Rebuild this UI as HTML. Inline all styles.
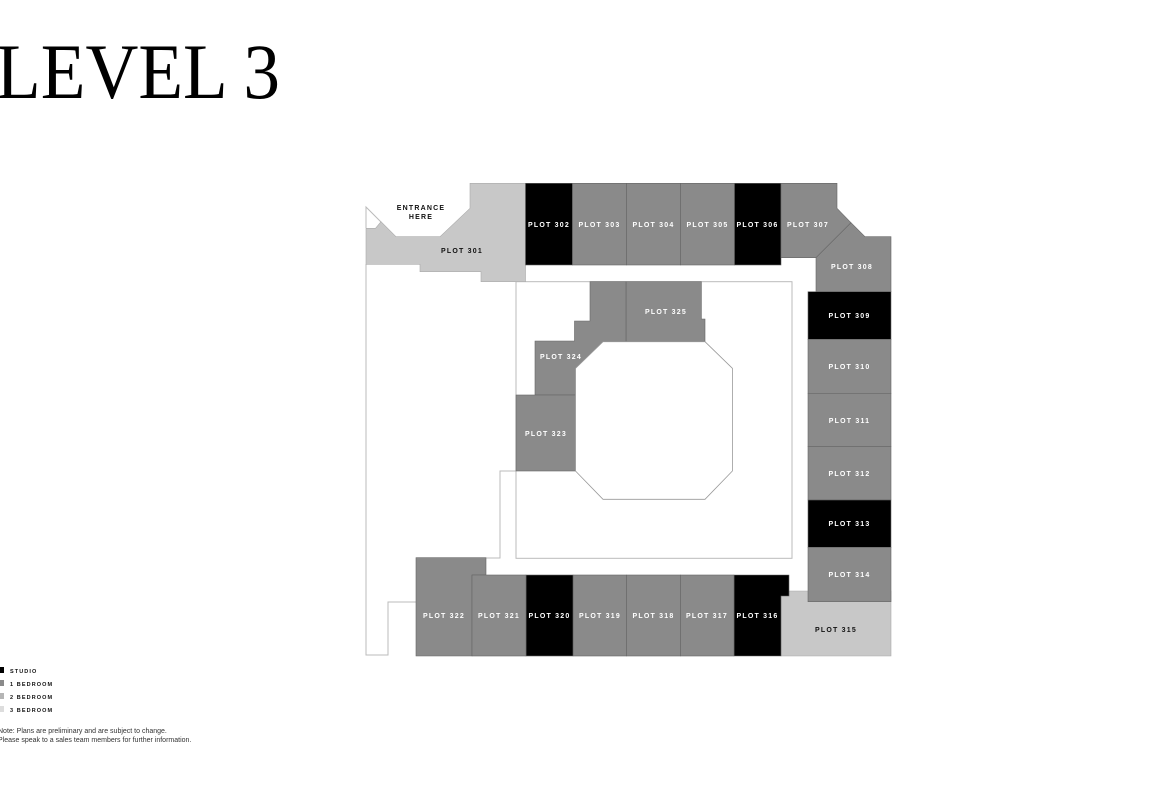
<!DOCTYPE html>
<html><head><meta charset="utf-8"><style>
html,body{margin:0;padding:0;background:#fff;width:1170px;height:785px;overflow:hidden}
svg{display:block}
.l{font-family:"Liberation Sans",sans-serif;font-weight:bold;font-size:7px;letter-spacing:1.2px;text-anchor:middle}
.w{fill:#fff}.k{fill:#111}
</style></head><body>
<svg width="1170" height="785" viewBox="0 0 1170 785" xmlns="http://www.w3.org/2000/svg">
<text x="-4" y="98" font-family="Liberation Serif, serif" font-size="78" textLength="284" lengthAdjust="spacingAndGlyphs" fill="#000">LEVEL 3</text>

<g stroke="#bbb" stroke-width="1" fill="none">
<polyline points="366,264 366,655 388,655 388,602 416,602"/>
<polyline points="486,558 500,558 500,471 516,471"/>
<rect x="516" y="281.7" width="276" height="276.6"/>
<polyline points="366,228 366,207 381,222"/>
</g>

<polygon fill="#c8c8c8" stroke="#aaa" stroke-width="0.6" points="470,183.3 525.5,183.3 525.5,281.7 481,281.7 481,271.7 420,271.7 420,264.3 366,264.3 366,228.3 375.5,228.3 381,221.7 396,236.7 440,236.7 470,208.3"/>

<g stroke="#666" stroke-width="0.6">
<rect x="525.5" y="183.3" width="47" height="81.7" fill="#000"/>
<rect x="572.5" y="183.3" width="54" height="81.7" fill="#8a8a8a"/>
<rect x="626.5" y="183.3" width="54" height="81.7" fill="#8a8a8a"/>
<rect x="680.5" y="183.3" width="54" height="81.7" fill="#8a8a8a"/>
<rect x="734.5" y="183.3" width="46.5" height="81.7" fill="#000"/>
<polygon fill="#8a8a8a" points="781,183.3 837,183.3 837,208.3 851,222.7 816,257.7 781,257.7"/>
<polygon fill="#8a8a8a" points="851,222.7 865,236.7 891,236.7 891,291.7 816,291.7 816,257.7"/>
<rect x="808" y="291.7" width="83" height="47.6" fill="#000"/>
<rect x="808" y="339.3" width="83" height="54" fill="#8a8a8a"/>
<rect x="808" y="393.3" width="83" height="53.4" fill="#8a8a8a"/>
<rect x="808" y="446.7" width="83" height="53.3" fill="#8a8a8a"/>
<rect x="808" y="500" width="83" height="47.3" fill="#000"/>
<polygon fill="#c8c8c8" stroke="#aaa" points="781,596 789,596 789,591 891,591 891,656 781,656"/>
<rect x="808" y="547.3" width="83" height="54.4" fill="#8a8a8a"/>
<polygon fill="#000" points="734,575 789,575 789,596 781,596 781,656 734,656"/>
<rect x="680.5" y="575" width="53.5" height="81" fill="#8a8a8a"/>
<rect x="626.5" y="575" width="54" height="81" fill="#8a8a8a"/>
<rect x="573" y="575" width="53.5" height="81" fill="#8a8a8a"/>
<rect x="526" y="575" width="47" height="81" fill="#000"/>
<polygon fill="#8a8a8a" points="416,557.7 486,557.7 486,575 472,575 472,656 416,656"/>
<rect x="472" y="575" width="54" height="81" fill="#8a8a8a"/>
<polygon fill="#8a8a8a" points="626,281.7 701.4,281.7 701.4,319 705,319 705,341.7 626,341.7"/>
<polygon fill="#8a8a8a" points="590,281.7 626,281.7 626,341.7 603,341.7 575.5,368.3 575.5,395 535,395 535,341 574.5,341 574.5,321 590,321"/>
<rect x="516" y="395" width="59.5" height="76" fill="#8a8a8a"/>
</g>
<polygon fill="#fff" stroke="#999" stroke-width="0.8" points="603,341.7 705,341.7 732.4,368.3 732.4,471 705,499.3 603,499.3 575.5,471 575.5,368.3"/>

<text class="l k" x="421" y="210">ENTRANCE</text>
<text class="l k" x="421" y="219">HERE</text>
<text class="l k" x="462" y="253">PLOT 301</text>
<text x="549" y="227" class="l w">PLOT 302</text>
<text x="599.5" y="227" class="l w">PLOT 303</text>
<text x="653.5" y="227" class="l w">PLOT 304</text>
<text x="707.5" y="227" class="l w">PLOT 305</text>
<text x="757.5" y="227" class="l w">PLOT 306</text>
<text x="808" y="227" class="l w">PLOT 307</text>
<text x="852" y="269" class="l w">PLOT 308</text>
<text x="849.5" y="318" class="l w">PLOT 309</text>
<text x="849.5" y="369" class="l w">PLOT 310</text>
<text x="849.5" y="423" class="l w">PLOT 311</text>
<text x="849.5" y="476" class="l w">PLOT 312</text>
<text x="849.5" y="526" class="l w">PLOT 313</text>
<text x="849.5" y="577" class="l w">PLOT 314</text>
<text x="836" y="632" class="l k">PLOT 315</text>
<text x="757.5" y="618" class="l w">PLOT 316</text>
<text x="707" y="618" class="l w">PLOT 317</text>
<text x="653.5" y="618" class="l w">PLOT 318</text>
<text x="600" y="618" class="l w">PLOT 319</text>
<text x="549.5" y="618" class="l w">PLOT 320</text>
<text x="499" y="618" class="l w">PLOT 321</text>
<text x="444" y="618" class="l w">PLOT 322</text>
<text x="546" y="436" class="l w">PLOT 323</text>
<text x="561" y="359" class="l w">PLOT 324</text>
<text x="666" y="314" class="l w">PLOT 325</text>

<rect x="0" y="667" width="4" height="6" fill="#000"/>
<rect x="0" y="680" width="4" height="6" fill="#8a8a8a"/>
<rect x="0" y="693" width="4" height="6" fill="#b5b5b5"/>
<rect x="0" y="706" width="4" height="6" fill="#ddd"/>
<g font-family="Liberation Sans, sans-serif" font-weight="bold" font-size="5.5" letter-spacing="1.1" fill="#111">
<text x="10" y="673">STUDIO</text>
<text x="10" y="686">1 BEDROOM</text>
<text x="10" y="699">2 BEDROOM</text>
<text x="10" y="712">3 BEDROOM</text>
</g>
<g font-family="Liberation Sans, sans-serif" font-size="7" fill="#333">
<text x="-2" y="733">Note: Plans are preliminary and are subject to change.</text>
<text x="-2" y="742">Please speak to a sales team members for further information.</text>
</g>
</svg>
</body></html>
